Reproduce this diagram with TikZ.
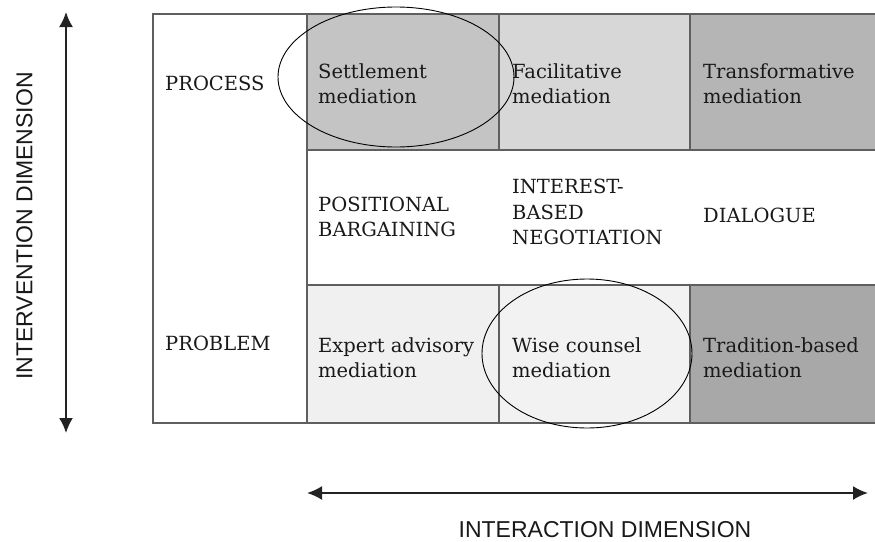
\documentclass[tikz,border=0pt]{standalone}
\usepackage{fontspec}
\setmainfont{DejaVu Serif}
\newfontfamily\axisfont{Liberation Sans}
\usetikzlibrary{arrows.meta}
\definecolor{settleC}{RGB}{196,196,196}
\definecolor{faciC}{RGB}{215,215,215}
\definecolor{transC}{RGB}{181,181,181}
\definecolor{expertC}{RGB}{240,240,240}
\definecolor{wiseC}{RGB}{242,242,242}
\definecolor{tradC}{RGB}{168,168,168}
\definecolor{gridC}{RGB}{95,95,95}
\definecolor{txtC}{RGB}{25,25,25}
\definecolor{axisC}{RGB}{35,35,35}
\begin{document}
\begin{tikzpicture}[x=1pt,y=-1pt,
  celltext/.style={anchor=west, align=left, inner sep=0pt, text=txtC,
    font=\fontsize{19.5}{25.5}\selectfont},
  gridline/.style={draw=gridC, line width=1.3pt},
  ring/.style={draw=black, line width=0.9pt},
  axisarrow/.style={draw=axisC, line width=2pt,
    {Latex[length=15pt,width=14pt]}-{Latex[length=15pt,width=14pt]}},
  axislabel/.style={inner sep=0pt, text=txtC, font=\axisfont\fontsize{23}{27}\selectfont}
]
\useasboundingbox (0,0) rectangle (875,541);
\fill[white] (0,0) rectangle (875,541);

% cell fills
\fill[settleC] (307,14) rectangle (499,150);
\fill[faciC]   (499,14) rectangle (690,150);
\fill[transC]  (690,14) rectangle (880,150);
\fill[expertC] (307,285) rectangle (499,423);
\fill[wiseC]   (499,285) rectangle (690,423);
\fill[tradC]   (690,285) rectangle (880,423);

% grid
\draw[gridline] (880,14) -- (153,14) -- (153,423) -- (880,423);
\draw[gridline] (307,14) -- (307,423);
\draw[gridline] (307,150) -- (880,150);
\draw[gridline] (307,285) -- (880,285);
\draw[gridline] (499,14) -- (499,150);
\draw[gridline] (690,14) -- (690,150);
\draw[gridline] (499,285) -- (499,423);
\draw[gridline] (690,285) -- (690,423);

% texts
\node[celltext] (process) at (165,83) {PROCESS};
\node[celltext] (settle) at (318,83.5) {Settlement\\mediation};
\node[celltext] (facil) at (512,83.5) {Facilitative\\mediation};
\node[celltext] (transf) at (703,83.5) {Transformative\\mediation};
\node[celltext] (posit) at (318,217) {POSITIONAL\\BARGAINING};
\node[celltext] (interest) at (512,212) {INTEREST-\\BASED\\NEGOTIATION};
\node[celltext] (dialog) at (703,215) {DIALOGUE};
\node[celltext] (problem) at (165,343) {PROBLEM};
\node[celltext] (expert) at (318,357.5) {Expert advisory\\mediation};
\node[celltext] (wise) at (512,357.5) {Wise counsel\\mediation};
\node[celltext] (trad) at (703,357.5) {Tradition-based\\mediation};

% ellipses
\draw[ring] (396,77) ellipse [x radius=118, y radius=70];
\draw[ring] (587,353.5) ellipse [x radius=105, y radius=74.5];

% axes
\coordinate (vtop) at (66,12);
\coordinate (vbot) at (66,433);
\coordinate (hleft) at (307,493);
\coordinate (hright) at (868,493);
\draw[axisarrow] (vtop) -- (vbot);
\draw[axisarrow] (hleft) -- (hright);
\node[axislabel, rotate=90] (intervention) at (24.5,226) {INTERVENTION DIMENSION};
\node[axislabel] (interaction) at (605,530) {INTERACTION DIMENSION};
\end{tikzpicture}
\end{document}
